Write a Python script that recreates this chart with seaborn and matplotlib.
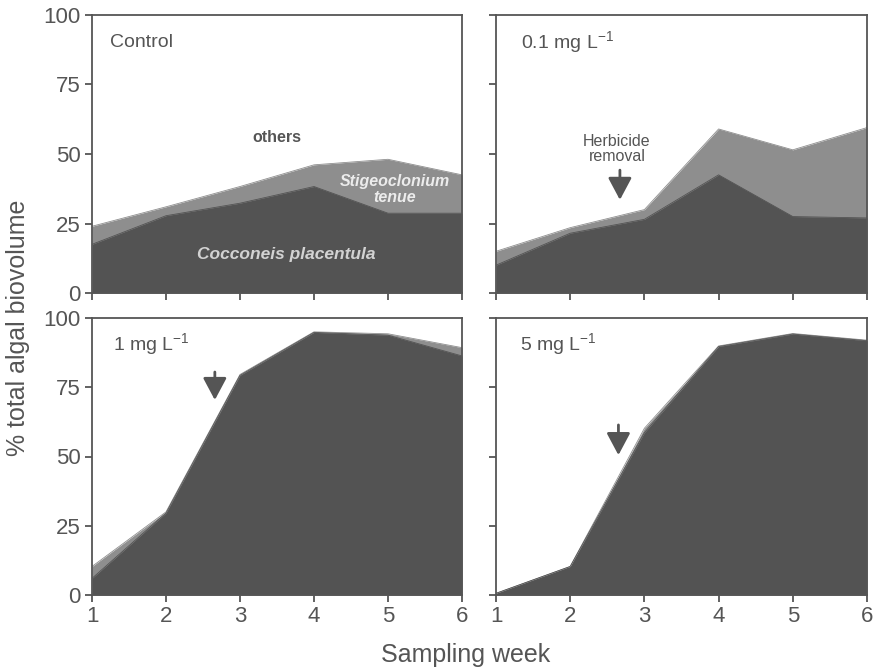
import matplotlib
matplotlib.use("Agg")
import matplotlib.pyplot as plt
import seaborn as sns
import pandas as pd

# Sampling weeks
weeks = [1, 2, 3, 4, 5, 6]

# Share of total algal biovolume (%) per treatment
control_cocconeis = [17.5, 27.8, 32.3, 38.3, 28.7, 28.7]
control_stigeo = [6.5, 3.2, 6.0, 7.8, 19.4, 13.8]

low_cocconeis = [10.0, 21.5, 26.5, 42.5, 27.5, 27.0]
low_stigeo = [5.0, 2.0, 3.5, 16.5, 24.0, 32.5]

mid_cocconeis = [6.0, 29.6, 79.3, 94.8, 93.8, 86.3]
mid_stigeo = [4.3, 0.4, 0.3, 0.2, 0.5, 3.0]

high_cocconeis = [0.6, 10.3, 58.6, 89.7, 94.2, 91.8]
high_stigeo = [0.0, 0.0, 1.6, 0.2, 0.2, 0.2]

panel_titles = ["Control", "0.1 mg L$^{\\mathregular{-1}}$",
                "1 mg L$^{\\mathregular{-1}}$", "5 mg L$^{\\mathregular{-1}}$"]
y_ticks = [0, 25, 50, 75, 100]

# Herbicide removal arrows: (week, tail, tip) per panel, None where absent
removal_arrows = [None, (2.67, 44.2, 33.5), (2.66, 80.5, 70.4), (2.65, 61.4, 50.5)]

sns.set_style("ticks")
plt.rcParams["font.family"] = ["Liberation Sans", "DejaVu Sans"]
plt.rcParams["mathtext.fontset"] = "custom"
plt.rcParams["mathtext.rm"] = "Liberation Sans"

DARK = "#535353"
MID = "#8e8e8e"
INK = "#555555"

frames = []
for name, coc, sti in [("control", control_cocconeis, control_stigeo),
                       ("low", low_cocconeis, low_stigeo),
                       ("mid", mid_cocconeis, mid_stigeo),
                       ("high", high_cocconeis, high_stigeo)]:
    df = pd.DataFrame({"week": weeks, "cocconeis": coc, "stigeo": sti})
    df["total"] = df["cocconeis"] + df["stigeo"]
    df["treatment"] = name
    frames.append(df)

fig = plt.figure(figsize=(8.76, 6.68), dpi=100)
W, H = 876, 668
boxes = [(92, 15, 462, 293), (496, 15, 867, 293),
         (92, 318, 462, 595), (496, 318, 867, 595)]

axes = []
for (x0, y0, x1, y1) in boxes:
    ax = fig.add_axes([x0 / W, 1 - y1 / H, (x1 - x0) / W, (y1 - y0) / H])
    axes.append(ax)

for i, (ax, df) in enumerate(zip(axes, frames)):
    ax.fill_between(df["week"], 0, df["total"], color=MID, lw=0, zorder=1)
    ax.fill_between(df["week"], 0, df["cocconeis"], color=DARK, lw=0, zorder=2)
    sns.lineplot(data=df, x="week", y="total", ax=ax, color=MID, lw=0.6, zorder=1.5)
    sns.lineplot(data=df, x="week", y="cocconeis", ax=ax, color=DARK, lw=0.6, zorder=2.5)

    ax.set_xlim(1, 6)
    ax.set_ylim(0, 100)
    ax.set_xticks(weeks)
    ax.set_yticks(y_ticks)
    ax.set_xlabel("")
    ax.set_ylabel("")
    for s in ax.spines.values():
        s.set_visible(True)
        s.set_color(INK)
        s.set_linewidth(1.3)
    ax.tick_params(direction="out", length=5, width=1.3, color=INK,
                   labelcolor=INK, labelsize=16, pad=3)
    if i < 2:
        ax.tick_params(labelbottom=False)
    if i % 2 == 1:
        ax.tick_params(labelleft=False)

    x_txt = 1.24 if i == 0 else (1.34 if i == 1 else (1.28 if i == 2 else 1.32))
    ax.text(x_txt, 90.2, panel_titles[i], fontsize=14, color=INK,
            ha="left", va="center", zorder=5)

    arr = removal_arrows[i]
    if arr is not None:
        wk, tail, tip = arr
        ax.annotate("", xy=(wk, tip), xytext=(wk, tail),
                    arrowprops=dict(arrowstyle="-|>,head_width=0.4,head_length=0.75",
                                    mutation_scale=18, lw=2.0, color=INK,
                                    shrinkA=0, shrinkB=0), zorder=6)

# Species labels in the control panel
ax0 = axes[0]
ax0.text(3.5, 56, "others", fontsize=11.5, fontweight="bold", color=INK,
         ha="center", va="center", zorder=5)
ax0.text(5.09, 37.2, "Stigeoclonium\ntenue", fontsize=11.5, fontweight="bold",
         fontstyle="italic", color="#ececec", ha="center", va="center",
         linespacing=1.05, zorder=5)
ax0.text(3.63, 13.7, "Cocconeis placentula", fontsize=12.5, fontstyle="italic",
         fontweight="bold", color="#d2d2d2", ha="center", va="center", zorder=5)

# Herbicide removal note
axes[1].text(2.63, 51.8, "Herbicide\nremoval", fontsize=11.5, color=INK,
             ha="center", va="center", linespacing=1.0, zorder=5)

fig.text(0.0205, 0.51, "% total algal biovolume", rotation=90, fontsize=18,
         color=INK, ha="center", va="center")
fig.text(0.532, 0.0195, "Sampling week", fontsize=18, color=INK,
         ha="center", va="center")

fig.savefig("out.png", dpi=100, facecolor="white")
